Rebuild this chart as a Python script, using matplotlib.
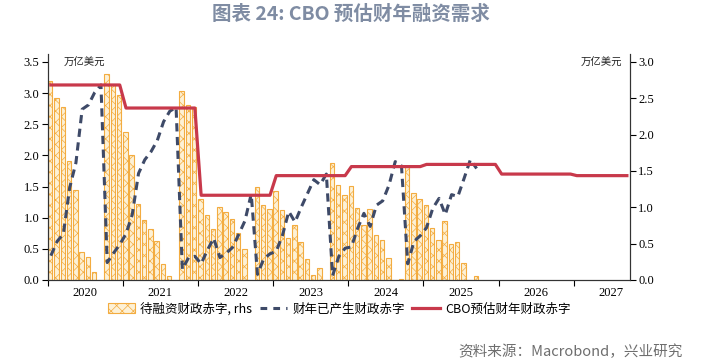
import matplotlib
matplotlib.use("Agg")
import matplotlib.pyplot as plt
import matplotlib.patches as mpatches
import matplotlib.lines as mlines
import numpy as np

plt.rcParams['font.family'] = ['Noto Sans CJK SC', 'DejaVu Sans']
plt.rcParams['hatch.linewidth'] = 0.5

years = ['2020', '2021', '2022', '2023', '2024', '2025', '2026', '2027']

# 待融资财政赤字 (rhs), monthly from Jan 2020 to Sep 2025
pending_2020 = [2.74, 2.50, 2.38, 1.64, 1.24, 0.38, 0.31, 0.11, 0.0, 2.83, 2.68, 2.55]
pending_2021 = [2.03, 1.72, 1.05, 0.83, 0.70, 0.53, 0.22, 0.055, 0.0, 2.60, 2.41, 2.38]
pending_2022 = [1.11, 0.89, 0.70, 1.00, 0.94, 0.84, 0.64, 0.42, 0.0, 1.28, 1.03, 0.97]
pending_2023 = [1.22, 0.96, 0.58, 0.76, 0.52, 0.29, 0.07, 0.16, 0.0, 1.61, 1.30, 1.17]
pending_2024 = [1.29, 0.99, 0.75, 0.97, 0.62, 0.55, 0.30, 0.0, 0.01, 1.57, 1.20, 1.11]
pending_2025 = [1.03, 0.71, 0.55, 0.81, 0.50, 0.52, 0.23, 0.0, 0.05]

# 财年已产生财政赤字 (lhs)
realized_2020 = [0.39, 0.62, 0.74, 1.48, 1.88, 2.74, 2.81, 3.01, 3.13, 0.28, 0.43, 0.57]
realized_2021 = [0.74, 1.05, 1.71, 1.93, 2.06, 2.24, 2.54, 2.71, 2.77, 0.17, 0.36, 0.38]
realized_2022 = [0.26, 0.48, 0.67, 0.36, 0.43, 0.52, 0.73, 0.95, 1.38, 0.09, 0.34, 0.42]
realized_2023 = [0.46, 0.72, 1.10, 0.93, 1.17, 1.39, 1.61, 1.53, 1.70, 0.07, 0.38, 0.51]
realized_2024 = [0.53, 0.83, 1.07, 0.86, 1.20, 1.27, 1.52, 1.90, 1.83, 0.26, 0.62, 0.71]
realized_2025 = [0.84, 1.15, 1.31, 1.05, 1.37, 1.34, 1.63, 1.93, 1.79]

# CBO预估财年财政赤字 (lhs), Jan 2020 to Sep 2027
cbo_2020 = [3.13] * 12
cbo_2021 = [2.76] * 12
cbo_2022 = [1.36] * 12
cbo_2023 = [1.675] * 12
cbo_2024 = [1.82] * 12
cbo_2025 = [1.855] * 12
cbo_2026 = [1.70] * 12
cbo_2027 = [1.675] * 9

pending = pending_2020 + pending_2021 + pending_2022 + pending_2023 + pending_2024 + pending_2025
realized = realized_2020 + realized_2021 + realized_2022 + realized_2023 + realized_2024 + realized_2025
cbo = cbo_2020 + cbo_2021 + cbo_2022 + cbo_2023 + cbo_2024 + cbo_2025 + cbo_2026 + cbo_2027

bar_face = '#FDF1D6'
bar_edge = '#F3AC40'
red = '#C8394B'
navy = '#3E4A68'
serif = 'Liberation Serif'

fig = plt.figure(figsize=(7.02, 3.63), dpi=100)
ax = fig.add_axes([0.068, 0.2287, 0.829, 0.6213])
ax2 = ax.twinx()

# bars on right axis
ax2.bar(np.arange(len(pending)) - 0.1, pending, width=0.72, color=bar_face,
        edgecolor=bar_edge, linewidth=0.8, hatch='xxx', zorder=1)
ax.set_zorder(ax2.get_zorder() + 1)
ax.patch.set_visible(False)

ax.plot(np.arange(len(realized)), realized, color=navy, linewidth=2.2,
        dashes=(2.7, 1.8), zorder=3)
ax.plot(np.arange(len(cbo)), cbo, color=red, linewidth=2.3, zorder=4)

ax.set_xlim(-0.5, 92.45)
ax.set_ylim(0, 3.62)
ax2.set_ylim(0, 3.0 * 3.62 / 3.5)

ax.set_yticks(np.arange(0, 3.51, 0.5))
ax.set_yticklabels([f'{v:.1f}' for v in np.arange(0, 3.51, 0.5)], fontfamily=serif, fontsize=9)
ax2.set_yticks(np.arange(0, 3.01, 0.5))
ax2.set_yticklabels([f'{v:.1f}' for v in np.arange(0, 3.01, 0.5)], fontfamily=serif, fontsize=9)

ax.set_xticks([-0.5 + 12 * k for k in range(8)])
ax.set_xticklabels([])
ax.set_xticks([5.5 + 12 * k for k in range(8)], minor=True)
ax.set_xticklabels(years, minor=True, fontfamily=serif, fontsize=9)
ax.tick_params(axis='x', which='minor', length=0, pad=5)
ax.tick_params(axis='x', which='major', length=4, direction='out')
ax.tick_params(axis='y', length=4, pad=2)
ax2.tick_params(axis='y', length=4, pad=2)

for a in (ax, ax2):
    a.spines['top'].set_visible(False)
    for s in ('left', 'right', 'bottom'):
        a.spines[s].set_color('#333333')
        a.spines[s].set_linewidth(0.8)

ax.text(0.028, 0.985, '万亿美元', transform=ax.transAxes, fontsize=7.5,
        ha='left', va='top', color='#222222')
ax.text(0.987, 0.985, '万亿美元', transform=ax.transAxes, fontsize=7.5,
        ha='right', va='top', color='#222222')

h1 = mpatches.Patch(facecolor=bar_face, edgecolor=bar_edge, hatch='xxx', linewidth=0.8)
h2 = mlines.Line2D([], [], color=navy, linewidth=2.2, dashes=(2.2, 2.0))
h3 = mlines.Line2D([], [], color=red, linewidth=2.3)
fig.legend([h1, h2, h3], ['待融资财政赤字, rhs', '财年已产生财政赤字', 'CBO预估财年财政赤字'],
           loc='center', bbox_to_anchor=(0.483, 0.149), ncol=3, frameon=False,
           fontsize=9, handlelength=2.2, handletextpad=0.4, columnspacing=0.6,
           handleheight=0.8)

fig.text(0.5, 0.962, '图表 24: CBO 预估财年融资需求', ha='center', va='center',
         fontsize=14, fontweight='bold', color='#7F8CA3')
fig.text(0.973, 0.03, '资料来源：Macrobond，兴业研究', ha='right', va='center',
         fontsize=10.5, color='#6E6E6E')

fig.savefig('out.png', dpi=100)
